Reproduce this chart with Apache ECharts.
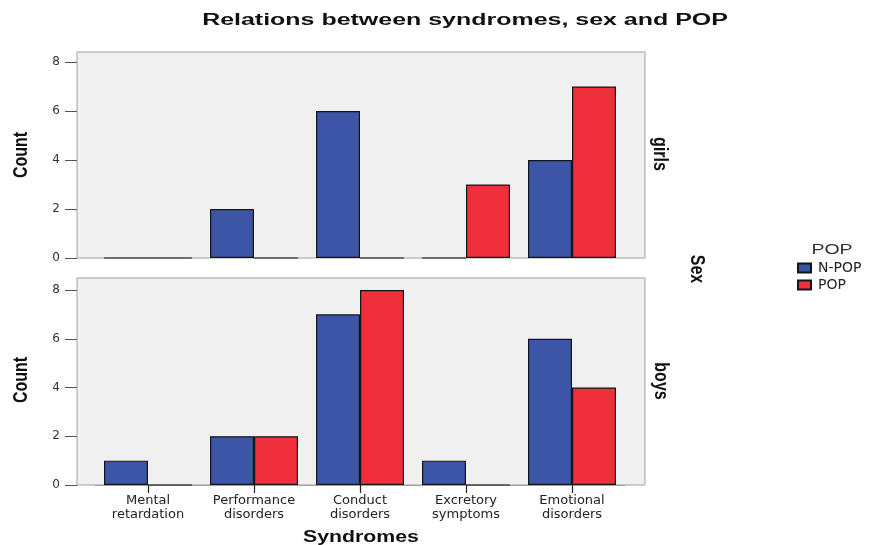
<!DOCTYPE html>
<html>
<head>
<meta charset="utf-8">
<script src="https://cdn.jsdelivr.net/npm/echarts@6/dist/echarts.min.js"></script>
<style>
  html, body { margin: 0; padding: 0; background: #ffffff; }
  #chart { width: 869px; height: 545px; }
</style>
</head>
<body>
<div id="chart"></div>
<script>
// ---- data ----
const categories = ['Mental\nretardation', 'Performance\ndisorders', 'Conduct\ndisorders', 'Excretory\nsymptoms', 'Emotional\ndisorders'];
const seriesNames = ['N-POP', 'POP'];
const girlsNPOP = [0, 2, 6, 0, 4];
const girlsPOP  = [0, 0, 0, 3, 7];
const boysNPOP  = [1, 2, 7, 1, 6];
const boysPOP   = [0, 2, 8, 0, 4];
const yMin = 0, yMax = 8, yStep = 2;
const titleText = 'Relations between syndromes, sex and POP';
const xName = 'Syndromes';
const yName = 'Count';
const panelNames = ['girls', 'boys'];
const facetName = 'Sex';
const legendTitle = 'POP';

// ---- styles ----
const BLUE = '#3c55a6';
const RED = '#ef2f3b';
const PANEL_BG = '#f0f0f0';
const PANEL_BORDER = '#a0a0a0';
const LAB_FONT = 'DejaVu Sans';
const TXT_FONT = 'Liberation Sans';

const chart = echarts.init(document.getElementById('chart'), null, { renderer: 'canvas' });

function valueAxis(gridIndex, visible) {
  if (!visible) return { gridIndex, type: 'value', show: false };
  return {
    gridIndex, type: 'value', min: yMin, max: yMax, interval: yStep, offset: 18,
    axisLine: { show: false },
    axisTick: { show: true, length: 12, lineStyle: { color: '#555', width: 1 } },
    axisLabel: { margin: 17, color: '#333', fontFamily: LAB_FONT, fontSize: 12 },
    splitLine: { show: false }
  };
}

function barSeries(name, data, color, axisIdx) {
  return {
    type: 'bar', name, data,
    xAxisIndex: axisIdx, yAxisIndex: axisIdx,
    barGap: '0%', barCategoryGap: '17%',
    itemStyle: { color, borderColor: '#151515', borderWidth: 1.2 },
    emphasis: { disabled: true },
    silent: true
  };
}

function rotText(text, x, y, rot, size, weight, sx, sy) {
  return {
    type: 'text', x, y, rotation: rot, scaleX: sx, scaleY: sy,
    style: {
      text, fill: '#111', fontFamily: TXT_FONT, fontSize: size, fontWeight: weight,
      align: 'center', verticalAlign: 'middle'
    }
  };
}

const option = {
  animation: false,
  backgroundColor: '#ffffff',
  grid: [
    { left: 77, top: 52, width: 568, height: 206, show: true, backgroundColor: PANEL_BG, borderColor: PANEL_BORDER, borderWidth: 1 },
    { left: 77, top: 278, width: 568, height: 207, show: true, backgroundColor: PANEL_BG, borderColor: PANEL_BORDER, borderWidth: 1 },
    { left: 95, top: 62, width: 530, height: 196 },
    { left: 95, top: 290, width: 530, height: 195 }
  ],
  xAxis: [
    { gridIndex: 0, type: 'value', show: false },
    { gridIndex: 1, type: 'value', show: false },
    { gridIndex: 2, type: 'category', data: categories,
      axisLine: { show: false }, axisTick: { show: false }, axisLabel: { show: false } },
    { gridIndex: 3, type: 'category', data: categories,
      axisLine: { show: true, lineStyle: { color: PANEL_BORDER, width: 1 } },
      axisTick: { show: true, alignWithLabel: true, length: 8, lineStyle: { color: '#222', width: 1.2 } },
      axisLabel: { margin: 9, color: '#222', fontFamily: LAB_FONT, fontSize: 13, lineHeight: 14, interval: 0 } }
  ],
  yAxis: [
    valueAxis(0, false),
    valueAxis(1, false),
    valueAxis(2, true),
    valueAxis(3, true)
  ],
  legend: {
    data: seriesNames,
    orient: 'vertical',
    left: 792, top: 256,
    icon: 'rect',
    itemWidth: 13, itemHeight: 9, itemGap: 3,
    textStyle: { fontFamily: LAB_FONT, fontSize: 14, lineHeight: 13, color: '#222', padding: [0, 0, 0, 2] },
    selectedMode: false
  },
  series: [
    barSeries(seriesNames[0], girlsNPOP, BLUE, 2),
    barSeries(seriesNames[1], girlsPOP, RED, 2),
    barSeries(seriesNames[0], boysNPOP, BLUE, 3),
    barSeries(seriesNames[1], boysPOP, RED, 3)
  ],
  graphic: [
    rotText(titleText, 465, 21, 0, 16, 'bold', 1.56, 1),
    rotText(yName, 21, 155, Math.PI / 2, 16, 'bold', 1, 1.3),
    rotText(yName, 21, 380, Math.PI / 2, 16, 'bold', 1, 1.3),
    rotText(panelNames[0], 660, 154, -Math.PI / 2, 16, 'bold', 1, 1.3),
    rotText(panelNames[1], 661, 381, -Math.PI / 2, 16, 'bold', 1, 1.3),
    rotText(facetName, 697, 269, -Math.PI / 2, 16, 'bold', 1, 1.3),
    rotText(xName, 361, 538, 0, 16, 'bold', 1.33, 1),
    {
      type: 'text', x: 832, y: 250, scaleX: 1.3,
      style: { text: legendTitle, fill: '#333', fontFamily: TXT_FONT, fontSize: 15, align: 'center', verticalAlign: 'middle' }
    }
  ]
};

chart.setOption(option);
</script>
</body>
</html>
